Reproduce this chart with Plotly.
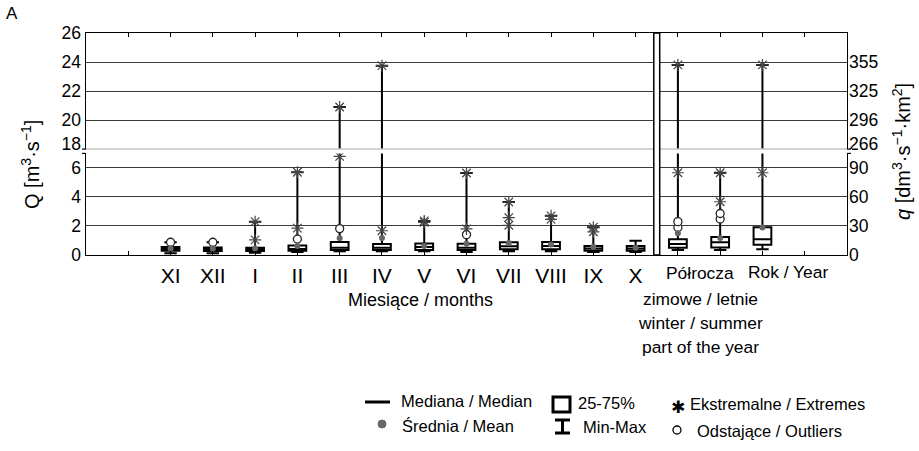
import numpy as np
import plotly.graph_objects as go

# ---------------- data (Q, m3/s) ----------------
categories = ["XI", "XII", "I", "II", "III", "IV", "V", "VI", "VII", "VIII", "IX", "X",
              "winter", "summer", "year"]
positions = [2, 3, 4, 5, 6, 7, 8, 9, 10, 11, 12, 13, 14, 15, 16]
q_min = [0.12, 0.12, 0.15, 0.2, 0.25, 0.25, 0.25, 0.2, 0.25, 0.25, 0.2, 0.2, 0.35, 0.35, 0.39]
q_25 = [0.3, 0.28, 0.28, 0.3, 0.35, 0.35, 0.35, 0.35, 0.4, 0.4, 0.3, 0.3, 0.5, 0.52, 0.7]
q_med = [0.42, 0.4, 0.38, 0.42, 0.5, 0.5, 0.55, 0.5, 0.6, 0.62, 0.45, 0.45, 0.76, 0.88, 1.08]
q_75 = [0.55, 0.52, 0.5, 0.65, 0.9, 0.75, 0.8, 0.78, 0.88, 0.9, 0.62, 0.62, 1.08, 1.24, 1.92]
q_mean = [0.45, 0.43, 0.45, 0.62, 1.15, 1.18, 0.62, 0.78, 0.83, 0.72, 0.57, 0.5, 1.5, 1.18, 1.9]
q_top = [0.88, 0.88, 2.3, 5.7, 20.9, 23.75, 2.35, 5.65, 3.65, 2.7, 1.92, 0.99, 23.8, 5.67, 23.8]
outliers = [[0.88], [0.88], [], [1.1], [1.82], [], [], [1.4], [], [], [], [],
            [1.9, 2.3], [2.48, 2.86], []]
extremes = [[], [], [1.04, 2.3], [1.85, 5.7], [6.8, 20.9], [1.67, 23.75], [2.25, 2.35],
            [1.8, 5.65], [2.05, 2.58, 3.65], [2.45, 2.7], [1.6, 1.92], [],
            [5.67, 23.8], [3.67, 5.67], [5.67, 23.8]]

month_labels = ["", "XI", "XII", "I", "II", "III", "IV", "V", "VI", "VII", "VIII", "IX", "X",
                "", "", "", ""]
month_ticks = list(range(1, 18))

Q_ticks = [0, 2, 4, 6, 18, 20, 22, 24, 26]
Q_labels = ["0", "2", "4", "6", "18", "20", "22", "24", "26"]
q_labels = ["0", "30", "60", "90", "266", "296", "325", "355", ""]

BREAK_LO, BREAK_HI, GAP = 7.0, 18.0, 0.3


def T(v):
    v = np.asarray(v, dtype=float)
    return np.where(v <= BREAK_LO, v, v - BREAK_HI + BREAK_LO + GAP)


Y_TOP = float(T(26))

# ---------------- geometry helpers (pixels -> paper) ----------------
W, H = 919, 451
ML, MR, MT, MB = 86, 72, 33, 196
PW, PH = W - ML - MR, H - MT - MB


def px(x):
    return (x - ML) / PW


def py(y):
    return (H - MB - y) / PH


FONT = "Liberation Sans, Arial, sans-serif"

fig = go.Figure()

fig.add_trace(go.Box(
    x=positions, q1=T(q_25), median=T(q_med), q3=T(q_75),
    lowerfence=T(q_min), upperfence=T(q_top),
    width=0.42, whiskerwidth=0.7, boxpoints=False,
    line=dict(color="black", width=2), fillcolor="white",
    showlegend=False, hoverinfo="skip"))

ox = [positions[i] for i in range(len(categories)) for _ in outliers[i]]
oy = [v for i in range(len(categories)) for v in outliers[i]]
ex = [positions[i] for i in range(len(categories)) for _ in extremes[i]]
ey = [v for i in range(len(categories)) for v in extremes[i]]

fig.add_trace(go.Scatter(x=ox, y=T(oy), mode="markers", showlegend=False, hoverinfo="skip",
                         marker=dict(symbol="circle", size=8, color="white",
                                     line=dict(color="#222", width=1.3))))
fig.add_trace(go.Scatter(x=ex, y=T(ey), mode="markers", showlegend=False, hoverinfo="skip",
                         marker=dict(symbol="asterisk-open", size=10, color="#444",
                                     line=dict(color="#444", width=1.2))))
fig.add_trace(go.Scatter(x=positions, y=T(q_mean), mode="markers", showlegend=False,
                         hoverinfo="skip",
                         marker=dict(symbol="circle", size=6, color="#666")))
# helper traces for the label-only axes
fig.add_trace(go.Scatter(x=[None], y=[None], yaxis="y2", showlegend=False))
fig.add_trace(go.Scatter(x=[None], y=[None], yaxis="y3", showlegend=False))

tv = [float(t) for t in T(Q_ticks)]
tv_lab = [t + (0.35 if q == 18 else 0) for t, q in zip(tv, Q_ticks)]

fig.update_layout(
    width=W, height=H, margin=dict(l=ML, r=MR, t=MT, b=MB),
    paper_bgcolor="white", plot_bgcolor="white",
    font=dict(family=FONT, color="black"),
    xaxis=dict(range=[0, 18], tickvals=month_ticks, ticktext=month_labels,
               ticks="inside", ticklen=4, tickcolor="black", tickwidth=1,
               showline=True, linecolor="black", linewidth=1.2, mirror="ticks",
               showgrid=False, zeroline=False, tickfont=dict(size=21),
               ticklabelstandoff=2),
    yaxis=dict(range=[0, Y_TOP], tickvals=tv, showticklabels=False,
               showgrid=True, gridcolor="#3a3a3a", gridwidth=1, ticks="",
               showline=True, linecolor="black", linewidth=1.2, mirror=True,
               zeroline=False),
    yaxis2=dict(range=[0, Y_TOP], overlaying="y", side="left", tickvals=tv_lab,
                ticktext=Q_labels, showgrid=False, zeroline=False, showline=False,
                ticks="", tickfont=dict(size=17.5), ticklabelstandoff=4),
    yaxis3=dict(range=[0, Y_TOP], overlaying="y", side="right", tickvals=tv_lab,
                ticktext=q_labels, showgrid=False, zeroline=False, showline=False,
                ticks="", tickfont=dict(size=17.5), ticklabelstandoff=1),
)

shapes = []
# gap for the broken axis
shapes.append(dict(type="rect", xref="paper", yref="y", x0=px(80), x1=px(852),
                   y0=BREAK_LO, y1=BREAK_LO + GAP, fillcolor="white", line=dict(width=0),
                   layer="above"))
shapes.append(dict(type="line", xref="paper", yref="y", x0=0, x1=1,
                   y0=BREAK_LO + GAP, y1=BREAK_LO + GAP, line=dict(color="#c4c4c4", width=1.5),
                   layer="above"))
for yv in (BREAK_LO, BREAK_LO + GAP):
    shapes.append(dict(type="line", xref="paper", yref="y", x0=px(82), x1=px(86),
                       y0=yv, y1=yv, line=dict(color="black", width=1.2), layer="above"))
    shapes.append(dict(type="line", xref="paper", yref="y", x0=px(847), x1=px(851),
                       y0=yv, y1=yv, line=dict(color="black", width=1.2), layer="above"))
# separator between months and half-years
shapes.append(dict(type="rect", xref="x", yref="paper", x0=13.43, x1=13.57, y0=0, y1=1,
                   fillcolor="white", line=dict(color="black", width=1.5), layer="above"))

# legend symbols
shapes.append(dict(type="line", xref="paper", yref="paper", x0=px(365), x1=px(390),
                   y0=py(402), y1=py(402), line=dict(color="black", width=3)))
shapes.append(dict(type="circle", xref="paper", yref="paper", x0=px(378), x1=px(386),
                   y0=py(420), y1=py(428), fillcolor="#666", line=dict(color="#666", width=1)))
shapes.append(dict(type="rect", xref="paper", yref="paper", x0=px(553), x1=px(570),
                   y0=py(397), y1=py(412), fillcolor="white", line=dict(color="black", width=3)))
for yy in (420, 433):
    shapes.append(dict(type="line", xref="paper", yref="paper", x0=px(555), x1=px(570),
                       y0=py(yy), y1=py(yy), line=dict(color="black", width=3)))
shapes.append(dict(type="line", xref="paper", yref="paper", x0=px(562.5), x1=px(562.5),
                   y0=py(420), y1=py(433), line=dict(color="black", width=3)))
shapes.append(dict(type="circle", xref="paper", yref="paper", x0=px(673), x1=px(681),
                   y0=py(426), y1=py(434), fillcolor="white", line=dict(color="black", width=1.3)))
fig.update_layout(shapes=shapes)

ann = []


def text(x, y, s, size, xanchor="center", **kw):
    ann.append(dict(x=px(x), y=py(y), xref="paper", yref="paper", text=s, showarrow=False,
                    xanchor=xanchor, yanchor="middle", font=dict(size=size, family=FONT,
                                                                 color="black"), **kw))


text(12, 14, "A", 17)
text(31, 165, "Q [m<sup>3</sup>·s<sup>−1</sup>]", 20, textangle=-90)
text(901, 152, "<i>q</i> [dm<sup>3</sup>·s<sup>−1</sup>·km<sup>2</sup>]", 20, textangle=-90)
text(420, 300, "Miesiące / months", 18)
text(700, 273, "Półrocza", 17.4)
text(788, 272, "Rok / Year", 17.4)
text(700, 299, "zimowe / letnie", 17.4)
text(700, 323, "winter / summer", 17.4)
text(700, 347, "part of the year", 17.4)
text(399, 401, "Mediana / Median", 16.5, xanchor="left")
text(400, 426, "Średnia / Mean", 16.5, xanchor="left")
text(576, 403, "25-75%", 16.5, xanchor="left")
text(581, 427, "Min-Max", 16.5, xanchor="left")
text(688, 404, "Ekstremalne / Extremes", 16.5, xanchor="left")
text(695, 431, "Odstające / Outliers", 16.5, xanchor="left")
ann.append(dict(x=px(678), y=py(407), xref="paper", yref="paper", text="✱", showarrow=False,
                xanchor="center", yanchor="middle",
                font=dict(size=17, family="DejaVu Sans", color="black")))
fig.update_layout(annotations=ann)

fig.write_html("out.html")
